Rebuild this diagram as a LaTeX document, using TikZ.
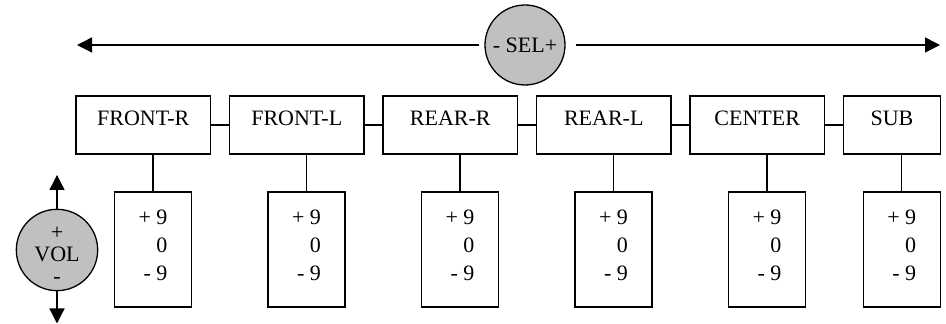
\documentclass[tikz,border=0pt]{standalone}
\usepackage{fontspec}
\setmainfont{Liberation Serif}
\usetikzlibrary{positioning, calc, arrows.meta}
\definecolor{knobgray}{RGB}{192,192,192}

\begin{document}
\begin{tikzpicture}[x=0.5pt, y=0.5pt, line width=0.65pt,
    chbox/.style={draw, minimum width=67.25pt, minimum height=29pt, inner sep=0pt, outer sep=0pt, text depth=6.5pt, font=\fontsize{11pt}{12pt}\selectfont},
    lvbox/.style={draw, minimum width=38.5pt, minimum height=57.5pt, inner sep=0pt, outer sep=0pt, align=right, text depth=4.5pt, font=\fontsize{11pt}{14pt}\selectfont},
    knob/.style={draw, circle, fill=knobgray, minimum size=40pt, inner sep=0pt, font=\fontsize{11pt}{11pt}\selectfont},
    tip/.style={-{Triangle[length=7.5pt, width=7.5pt]}}]
\useasboundingbox (0,0) rectangle (946,324);
    % channel row
    \node[chbox] (fr) at (143.25,199) {FRONT-R};
    \node[chbox, right=9.5pt of fr] (fl) {FRONT-L};
    \node[chbox, right=9.5pt of fl] (rr) {REAR-R};
    \node[chbox, right=9.5pt of rr] (rl) {REAR-L};
    \node[chbox, right=9.5pt of rl] (ce) {CENTER};
    \node[chbox, minimum width=48.5pt, right=9.5pt of ce] (sub) {SUB};
    \draw (fr)--(fl);
    \draw (fl)--(rr);
    \draw (rr)--(rl);
    \draw (rl)--(ce);
    \draw (ce)--(sub);
    % level boxes
    \foreach \c in {fr,fl,rr,rl,ce,sub}{
        \node[lvbox, anchor=north] (\c-v) at ($(\c.south)+(9.75,-38)$) {+ 9\\0\\- 9};
        \draw (\c-v.north)--(\c-v.north |- \c.south);
    }
    % select knob
    \node[knob] (sel) at (525,279) {- SEL+};
    \coordinate (selL) at (77,279);
    \coordinate (selR) at (940,279);
    \draw[tip, shorten <=2.5pt] (sel.west)--(selL);
    \draw[tip, shorten <=5pt] (sel.east)--(selR);
    % volume knob
    \node[knob, minimum size=39pt, align=center, text height=34pt] (vol) at (57,74) {+\\VOL\\-};
    \coordinate (volU) at (57,149);
    \coordinate (volD) at (57,0.5);
    \draw[tip] (vol.north)--(volU);
    \draw[tip] (vol.south)--(volD);
\end{tikzpicture}
\end{document}
